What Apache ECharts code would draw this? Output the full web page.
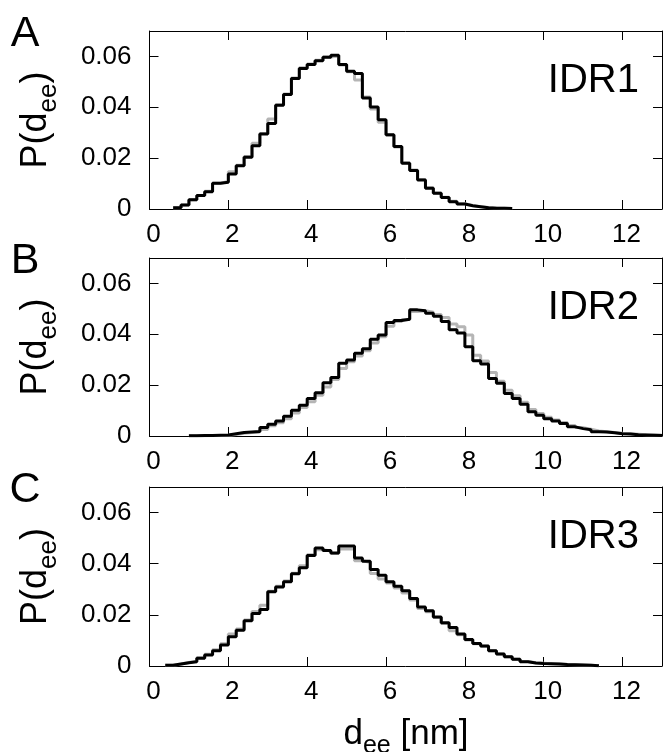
<!DOCTYPE html>
<html>
<head>
<meta charset="utf-8">
<script src="https://cdn.jsdelivr.net/npm/echarts@6/dist/echarts.min.js"></script>
<style>
html,body{margin:0;padding:0;background:#fff;}
#chart{width:663px;height:752px;}
</style>
</head>
<body>
<div id="chart"></div>
<script>
// ---- data (probability per 0.2 nm bin) ----
const binWidth = 0.2;
const xTicks = [0, 2, 4, 6, 8, 10, 12];
const yTicks = [0, 0.02, 0.04, 0.06];
const panelLetters = ['A', 'B', 'C'];
const panelNames = ['IDR1', 'IDR2', 'IDR3'];

const idr1Start = 0.6;
const idr1Black = [0.0005,0.0016,0.0036,0.0053,0.0068,0.0101,0.0105,0.0138,0.0170,0.0204,
  0.0249,0.0295,0.0336,0.0408,0.0450,0.0513,0.0553,0.0568,0.0583,0.0597,
  0.0605,0.0568,0.0542,0.0533,0.0437,0.0401,0.0351,0.0292,0.0246,0.0180,
  0.0151,0.0114,0.0082,0.0062,0.0045,0.0029,0.0020,0.0013,0.0009,0.0005,
  0.0003,0.0003,0.0002];
const idr1Gray = [0.0005,0.0016,0.0036,0.0053,0.0070,0.0101,0.0108,0.0146,0.0172,0.0206,
  0.0259,0.0297,0.0354,0.0410,0.0452,0.0515,0.0555,0.0570,0.0585,0.0598,
  0.0603,0.0566,0.0540,0.0507,0.0440,0.0393,0.0341,0.0290,0.0244,0.0182,
  0.0153,0.0116,0.0084,0.0063,0.0046,0.0030,0.0021,0.0014,0.0009,0.0006,
  0.0004,0.0003,0.0002];

const idr2Start = 1.0;
const idr2Black = [0.0001,0.0002,0.0002,0.0003,0.0004,0.0009,0.0014,0.0016,0.0018,0.0033,
  0.0046,0.0059,0.0078,0.0101,0.0121,0.0147,0.0170,0.0209,0.0230,0.0286,
  0.0299,0.0325,0.0343,0.0380,0.0397,0.0446,0.0454,0.0459,0.0496,0.0493,
  0.0483,0.0471,0.0450,0.0418,0.0405,0.0351,0.0296,0.0283,0.0226,0.0207,
  0.0167,0.0147,0.0125,0.0095,0.0082,0.0068,0.0059,0.0049,0.0036,0.0029,
  0.0025,0.0017,0.0016,0.0013,0.0009,0.0008,0.0005,0.0004,0.0003,0.0002];
const idr2Gray = [0.0001,0.0001,0.0002,0.0002,0.0003,0.0006,0.0011,0.0014,0.0016,0.0026,
  0.0040,0.0052,0.0068,0.0090,0.0112,0.0135,0.0160,0.0193,0.0222,0.0265,
  0.0292,0.0315,0.0335,0.0366,0.0390,0.0432,0.0450,0.0458,0.0490,0.0493,
  0.0487,0.0478,0.0466,0.0440,0.0430,0.0397,0.0318,0.0295,0.0250,0.0215,
  0.0180,0.0158,0.0133,0.0104,0.0088,0.0074,0.0063,0.0053,0.0041,0.0033,
  0.0027,0.0020,0.0017,0.0014,0.0011,0.0009,0.0007,0.0005,0.0004,0.0003];

const idr3Start = 0.4;
const idr3Black = [0.0003,0.0008,0.0013,0.0017,0.0030,0.0043,0.0060,0.0082,0.0114,0.0140,
  0.0177,0.0205,0.0221,0.0290,0.0309,0.0329,0.0361,0.0384,0.0432,0.0461,
  0.0452,0.0442,0.0469,0.0469,0.0422,0.0410,0.0377,0.0355,0.0329,0.0312,
  0.0294,0.0264,0.0231,0.0216,0.0192,0.0169,0.0151,0.0125,0.0104,0.0088,
  0.0078,0.0060,0.0047,0.0036,0.0026,0.0017,0.0012,0.0010,0.0009,0.0008,
  0.0006,0.0005,0.0004,0.0003,0.0001];
const idr3Gray = [0.0003,0.0008,0.0014,0.0019,0.0032,0.0046,0.0064,0.0087,0.0125,0.0145,
  0.0180,0.0213,0.0238,0.0292,0.0312,0.0332,0.0363,0.0392,0.0435,0.0455,
  0.0450,0.0440,0.0458,0.0458,0.0412,0.0405,0.0362,0.0340,0.0325,0.0305,
  0.0285,0.0258,0.0225,0.0212,0.0190,0.0166,0.0138,0.0122,0.0102,0.0087,
  0.0077,0.0060,0.0047,0.0036,0.0026,0.0018,0.0013,0.0011,0.0009,0.0008,
  0.0006,0.0005,0.0004,0.0003,0.0001];

const panels = [
  {start: idr1Start, black: idr1Black, gray: idr1Gray},
  {start: idr2Start, black: idr2Black, gray: idr2Gray},
  {start: idr3Start, black: idr3Black, gray: idr3Gray}
];

// ---- layout ----
const FONT = 'Liberation Sans, Arial, Helvetica, sans-serif';
const gridTops = [31, 258, 487];
const gridHeights = [178, 178, 179];
const gridLeft = 149.5, gridRight = 1;
const xMax = 13, yMax = 0.07;

function steps(start, vals) {
  const pts = vals.map((v, i) => [start + i * binWidth, v]);
  pts.push([start + vals.length * binWidth, vals[vals.length - 1]]);
  return pts;
}

const measureCtx = document.createElement('canvas').getContext('2d');
function textWidth(str, size) {
  measureCtx.font = size + 'px ' + FONT;
  return measureCtx.measureText(str).width;
}

// label made of main text + subscript + main text, centered at (0,0) in local coords
function subLabel(pre, sub, post, mainSize, subSize, subDrop) {
  const w1 = textWidth(pre, mainSize), w2 = textWidth(sub, subSize), w3 = textWidth(post, mainSize);
  const W = w1 + w2 + w3;
  const x0 = -W / 2;
  const mk = (t, x, y, s) => ({
    type: 'text', x: x, y: y,
    style: {text: t, font: s + 'px ' + FONT, fill: '#000', align: 'left', verticalAlign: 'middle'}
  });
  const mainBase = 0.3465 * mainSize;
  const subCenter = mainBase + subDrop - 0.3465 * subSize;
  return [mk(pre, x0, 0, mainSize), mk(sub, x0 + w1, subCenter, subSize), mk(post, x0 + w1 + w2, 0, mainSize)];
}

const grid = [], xAxis = [], yAxis = [], series = [], graphic = [];
const lineStyleAxis = {color: '#000', width: 1};

panels.forEach((p, k) => {
  grid.push({left: gridLeft, right: gridRight, top: gridTops[k], height: gridHeights[k]});
  xAxis.push({
    type: 'value', gridIndex: k, position: 'bottom', min: 0, max: xMax,
    axisLine: {show: true, onZero: false, lineStyle: lineStyleAxis},
    axisTick: {show: true, inside: true, length: 9, lineStyle: lineStyleAxis, customValues: xTicks},
    axisLabel: {show: true, customValues: xTicks, color: '#000', fontFamily: FONT, fontSize: 26,
      margin: 13, padding: [0, 0, 0, 8]},
    splitLine: {show: false}
  });
  xAxis.push({
    type: 'value', gridIndex: k, position: 'top', min: 0, max: xMax,
    axisLine: {show: true, onZero: false, lineStyle: lineStyleAxis},
    axisTick: {show: true, inside: true, length: 9, lineStyle: lineStyleAxis, customValues: xTicks},
    axisLabel: {show: false},
    splitLine: {show: false}
  });
  yAxis.push({
    type: 'value', gridIndex: k, position: 'left', min: 0, max: yMax,
    axisLine: {show: true, onZero: false, lineStyle: lineStyleAxis},
    axisTick: {show: true, inside: true, length: 9, lineStyle: lineStyleAxis, customValues: yTicks},
    axisLabel: {show: true, customValues: yTicks, color: '#000', fontFamily: FONT, fontSize: 26, margin: 18,
      formatter: v => (v === 0 ? '0' : v.toFixed(2))},
    splitLine: {show: false}
  });
  yAxis.push({
    type: 'value', gridIndex: k, position: 'right', min: 0, max: yMax,
    axisLine: {show: true, onZero: false, lineStyle: lineStyleAxis},
    axisTick: {show: true, inside: true, length: 9, lineStyle: lineStyleAxis, customValues: yTicks},
    axisLabel: {show: false},
    splitLine: {show: false}
  });
  series.push({
    type: 'line', xAxisIndex: 2 * k, yAxisIndex: 2 * k, step: 'end', showSymbol: false,
    silent: true, animation: false, data: steps(p.start, p.gray),
    lineStyle: {color: '#b5b5b5', width: 3}, z: 2
  });
  series.push({
    type: 'line', xAxisIndex: 2 * k, yAxisIndex: 2 * k, step: 'end', showSymbol: false,
    silent: true, animation: false, data: steps(p.start, p.black),
    lineStyle: {color: '#000', width: 3}, z: 3
  });

  const top = gridTops[k], h = gridHeights[k];
  graphic.push({
    type: 'text', x: 25, y: top + 3, z: 10,
    style: {text: panelLetters[k], font: '43px ' + FONT, fill: '#000', align: 'center', verticalAlign: 'middle'}
  });
  graphic.push({
    type: 'text', x: 639, y: top + 50, z: 10,
    style: {text: panelNames[k], font: '40px ' + FONT, fill: '#000', align: 'right', verticalAlign: 'middle'}
  });
  graphic.push({
    type: 'group', x: 36, y: top + h / 2, rotation: Math.PI / 2, z: 10,
    children: subLabel('P(d', 'ee', ')', 36, 26, 9)
  });
});

graphic.push({
  type: 'group', x: 406, y: 734, z: 10,
  children: subLabel('d', 'ee', ' [nm]', 35, 25, 9)
});

const chart = echarts.init(document.getElementById('chart'), null, {renderer: 'canvas'});
chart.setOption({
  backgroundColor: '#fff',
  animation: false,
  grid, xAxis, yAxis, series, graphic
});
</script>
</body>
</html>
